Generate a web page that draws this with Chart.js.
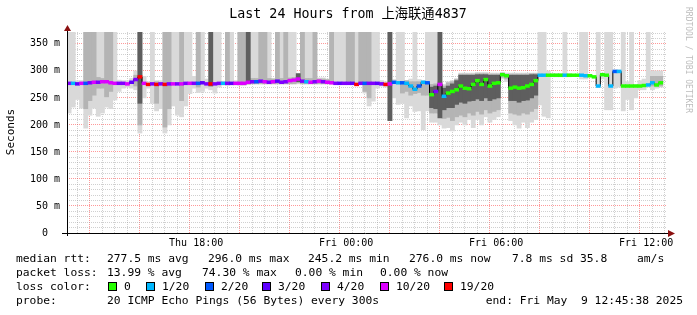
<!DOCTYPE html>
<html>
<head>
<meta charset="utf-8">
<title>Last 24 Hours from 上海联通4837</title>
<script src="https://cdn.jsdelivr.net/npm/chart.js@4.4.1/dist/chart.umd.min.js"></script>
<style>
  body { margin: 0; background: #fff; }
  canvas { display: block; }
</style>
</head>
<body>
<canvas id="smokeGraph" width="697" height="315"></canvas>
<script>
// 24 h of 10 minute bins, first bin starts Thu 12:50
const binMinutes = 10;
const xTickMinutes = [310, 670, 1030, 1390];
const xTickLabels = ["Thu 18:00", "Fri 00:00", "Fri 06:00", "Fri 12:00"];
const yTickValues = [0, 50, 100, 150, 200, 250, 300, 350];

const lossLabels = ["0", "1/20", "2/20", "3/20", "4/20", "10/20", "19/20"];
const lossColors = ["#26ff00", "#00b8ff", "#0059ff", "#5e00ff", "#7e00ff", "#dd00ff", "#ff0000"];

// median rtt in ms per bin
const median = [
    277, 277, 276, 277, 277, 278, 279, 279, 280, 280, 278, 277,
    277, 277, 276, 279, 284, 289, 277, 275, 276, 275, 276, 275,
    276, 276, 276, 276, 277, 277, 277, 277, 278, 276, 276, 276,
    277, 277, 277, 277, 277, 277, 277, 279, 280, 280, 281, 280,
    279, 280, 281, 279, 280, 282, 283, 285, 281, 280, 279, 280,
    281, 280, 279, 278, 277, 277, 277, 277, 277, 275, 277, 277,
    277, 277, 277, 276, 275, 276, 279, 278, 278, 277, 272, 266,
    272, 279, 278, 256, 262, 275, 253, 259, 262, 265, 272, 268,
    267, 275, 282, 275, 284, 272, 277, 278, 293, 291, 268, 270,
    268, 269, 272, 275, 282, 292, 292, 292, 292, 292, 292, 292,
    292, 292, 292, 292, 291, 291, 289, 272, 293, 292, 272, 299,
    299, 272, 272, 272, 272, 272, 273, 274, 278, 274, 278, null
];

// index into lossColors per bin
const loss = [
    4, 1, 3, 5, 2, 4, 5, 4, 5, 5, 5, 5,
    4, 4, 5, 3, 4, 6, 5, 6, 4, 6, 4, 6,
    4, 5, 4, 5, 4, 5, 4, 2, 3, 4, 6, 4,
    4, 1, 4, 3, 5, 5, 5, 5, 4, 2, 4, 5,
    4, 5, 3, 4, 4, 5, 5, 5, 4, 1, 5, 4,
    5, 4, 5, 5, 4, 3, 4, 4, 3, 6, 4, 2,
    4, 4, 3, 4, 6, 5, 2, 1, 2, 1, 1, 1,
    2, 1, 2, 0, 4, 5, 1, 0, 0, 0, 0, 0,
    0, 0, 0, 0, 0, 0, 0, 0, 0, 0, 0, 0,
    0, 0, 0, 0, 0, 1, 1, 0, 0, 0, 0, 1,
    0, 0, 0, 1, 1, 0, 0, 1, 0, 0, 1, 2,
    1, 0, 0, 0, 0, 0, 0, 1, 1, 0, 0, 0
];

// smoke ranges [low, high] in ms, outer light band
const smokeLight = [
    [222,372],[233,372],[247,282],[231,282],[194,372],[218,372],[231,372],[216,372],[222,372],[233,372],[230,372],[246,372],
    [262,283],[268,282],[270,282],[268,286],[265,300],[185,372],[250,290],[268,280],[240,372],[226,282],[230,282],[185,372],
    [200,372],[235,372],[218,372],[215,372],[235,372],[258,372],[268,290],[260,372],[262,372],[268,285],[265,372],[259,372],
    [270,372],[274,281],[274,372],[274,372],[274,282],[274,372],[274,372],[276,372],[276,372],[276,372],[276,372],[276,372],
    [276,372],[276,286],[276,372],[276,372],[276,372],[276,372],[276,372],[276,295],[276,372],[276,372],[276,372],[276,372],
    [276,287],[276,287],[276,285],[276,372],[275,372],[275,372],[275,372],[275,372],[275,372],[275,372],[275,372],[259,372],
    [235,372],[244,372],[268,372],[272,282],[270,280],[208,372],[250,284],[238,372],[240,372],[213,282],[235,285],[225,372],
    [226,284],[191,282],[226,372],[205,372],[205,372],[200,372],[194,275],[195,280],[189,282],[200,285],[205,296],[200,296],
    [210,296],[195,296],[210,297],[200,297],[215,297],[205,296],[210,296],[215,296],[285,297],[280,296],[208,296],[200,296],
    [194,296],[205,296],[195,296],[205,296],[210,296],[237,372],[216,372],[213,300],[289,295],[289,295],[289,295],[289,372],
    [289,295],null,null,[285,372],[285,372],null,null,[270,372],[285,296],[228,372],[228,372],[268,302],
    [270,302],[226,372],[247,280],[228,372],[250,275],[265,282],[265,285],[270,372],[265,300],[268,300],[270,300],null
];

// middle band
const smokeMid = [
    null,null,null,null,[230,372],[245,372],[255,372],[268,288],[268,286],[252,372],[262,372],null,
    null,null,null,null,[272,292],[200,372],null,null,null,[240,280],null,[196,372],
    [230,372],null,null,[245,372],null,null,null,[270,372],null,null,null,null,
    null,null,[274,372],null,null,[274,372],[274,372],[276,286],[276,286],[276,286],[276,372],[276,372],
    [276,286],[276,285],[276,372],[276,286],[276,372],[276,287],[276,288],[278,292],[276,372],[276,286],[276,286],[276,372],
    [276,285],[276,285],[276,284],[276,372],null,null,null,[275,372],[275,372],null,[275,372],[262,372],
    [250,372],null,null,null,null,null,null,null,[259,280],[262,282],[255,280],[258,280],
    [260,280],[255,279],[255,280],[222,275],[222,276],[222,280],[212,272],[214,278],[208,280],[215,285],[218,294],[215,294],
    [222,294],[218,294],[225,295],[220,295],[228,295],[222,294],[225,294],[228,294],[288,296],[285,294],[222,294],[220,294],
    [218,294],[222,294],[220,294],[225,295],[230,295],null,null,null,null,null,null,null,
    null,null,null,null,null,null,null,null,null,null,null,null,
    null,null,null,null,null,null,null,null,[272,290],[272,290],[272,290],null
];

// dense core band
const smokeDark = [
    null,null,null,null,null,null,null,null,null,null,null,null,
    null,null,null,null,null,[240,372],null,null,null,null,null,null,
    null,null,null,null,null,null,null,null,null,null,[272,372],null,
    null,null,null,null,null,null,null,[276,372],null,null,null,null,
    null,null,null,null,null,null,null,[280,295],null,null,null,null,
    null,null,null,null,null,null,null,null,null,null,null,null,
    null,null,null,null,null,[208,372],null,null,null,null,null,null,
    null,null,null,[232,270],[230,272],[213,372],[228,268],[232,272],[232,276],[238,282],[242,292],[240,292],
    [244,292],[245,292],[248,293],[245,293],[250,293],[245,292],[248,292],[250,292],null,null,[245,292],[245,292],
    [242,292],[245,292],[246,292],[250,293],[255,293],null,null,null,null,null,null,null,
    null,null,null,null,null,null,null,null,null,null,null,null,
    null,null,null,null,null,null,null,null,null,null,null,null
];

const medianStats = ["277.5 ms avg", "296.0 ms max", "245.2 ms min", "276.0 ms now", "7.8 ms sd", "35.8", "am/s"];
const lossStats = ["13.99 % avg", "74.30 % max", "0.00 % min", "0.00 % now"];
const probeText = "20 ICMP Echo Pings (56 Bytes) every 300s";
const endText = "end: Fri May  9 12:45:38 2025";
const titleText = "Last 24 Hours from 上海联通4837";

document.addEventListener("DOMContentLoaded", () => {
    const ctx = document.getElementById("smokeGraph").getContext("2d");
    const mono = "'DejaVu Sans Mono', 'Noto Sans CJK SC', monospace";

    const binX = median.map((_, i) => i * binMinutes + binMinutes / 2);
    const toBars = (arr) => arr.map((r, i) => ({ x: binX[i], y: r }));

    // grid every 30 min from 13:00, every 10 ms
    const gridMinutes = [];
    for (let t = 10; t < 1440; t += 30) gridMinutes.push(t);
    const gridValues = [];
    for (let v = 0; v <= 370; v += 10) gridValues.push(v);

    const majorGrid = "rgba(255,0,0,0.4)";
    const minorGrid = "rgba(150,150,150,0.45)";

    const smokeBar = (label, arr, color, order) => ({
        type: "bar",
        label: label,
        data: toBars(arr),
        backgroundColor: color,
        borderWidth: 0,
        grouped: false,
        barPercentage: 1,
        categoryPercentage: 1,
        order: order
    });

    const decorations = {
        id: "decorations",
        afterDraw(chart) {
            const c = chart.ctx;
            const a = chart.chartArea;
            c.save();

            // axes with arrows
            c.strokeStyle = "#000";
            c.lineWidth = 1;
            c.beginPath();
            c.moveTo(a.left - 5, a.bottom + 0.5);
            c.lineTo(a.right + 2, a.bottom + 0.5);
            c.moveTo(a.left + 0.5, a.bottom + 3);
            c.lineTo(a.left + 0.5, a.top - 2);
            c.stroke();
            c.fillStyle = "#8b1010";
            c.beginPath();
            c.moveTo(a.right + 1, a.bottom - 3);
            c.lineTo(a.right + 8, a.bottom + 0.5);
            c.lineTo(a.right + 1, a.bottom + 4);
            c.fill();
            c.beginPath();
            c.moveTo(a.left - 3, a.top - 1);
            c.lineTo(a.left + 0.5, a.top - 7);
            c.lineTo(a.left + 4, a.top - 1);
            c.fill();

            // title
            c.fillStyle = "#000";
            c.textBaseline = "middle";
            c.textAlign = "center";
            c.font = "13.3px " + mono;
            c.fillText(titleText, 348, 15);

            // y axis title
            c.save();
            c.translate(11, 132);
            c.rotate(-Math.PI / 2);
            c.font = "11px " + mono;
            c.fillText("Seconds", 0, 0);
            c.restore();

            // watermark
            c.save();
            c.translate(688, 60);
            c.rotate(Math.PI / 2);
            c.fillStyle = "#bdbdbd";
            c.font = "8px " + mono;
            c.fillText("RRDTOOL / TOBI OETIKER", 0, 0);
            c.restore();

            // legend
            c.textAlign = "left";
            c.font = "11.3px " + mono;
            c.fillStyle = "#000";
            const r1 = 259, r2 = 273, r3 = 287, r4 = 301;
            c.fillText("median rtt:", 16, r1);
            [107, 208, 308, 409, 512, 580, 637].forEach((x, i) => c.fillText(medianStats[i], x, r1));
            c.fillText("packet loss:", 16, r2);
            [107, 202, 295, 380].forEach((x, i) => c.fillText(lossStats[i], x, r2));
            c.fillText("loss color:", 16, r3);
            const boxX = [108, 146, 205, 262, 321, 380, 444];
            boxX.forEach((x, i) => {
                c.fillStyle = lossColors[i];
                c.fillRect(x, r3 - 5, 9, 9);
                c.strokeStyle = "#000";
                c.strokeRect(x + 0.5, r3 - 4.5, 8, 8);
                c.fillStyle = "#000";
                c.fillText(lossLabels[i], x + 16, r3);
            });
            c.fillText("probe:", 16, r4);
            c.fillText(probeText, 107, r4);
            c.textAlign = "right";
            c.fillText(endText, 683, r4);

            c.restore();
        }
    };

    const config = {
        type: "bar",
        data: {
            datasets: [
                {
                    type: "bar",
                    label: "median",
                    data: median.map((m, i) => ({ x: binX[i], y: m === null ? null : [m - 2.6, m + 2.6] })),
                    backgroundColor: loss.map(l => lossColors[l]),
                    borderWidth: 0,
                    grouped: false,
                    barPercentage: 1,
                    categoryPercentage: 1,
                    order: 1
                },
                {
                    type: "line",
                    label: "median step",
                    data: median.map((m, i) => ({ x: binX[i], y: m })),
                    borderColor: "#000",
                    borderWidth: 1,
                    pointRadius: 0,
                    stepped: "middle",
                    order: 2
                },
                smokeBar("smoke core", smokeDark, "#5e5e5e", 3),
                smokeBar("smoke mid", smokeMid, "#b4b4b4", 4),
                smokeBar("smoke outer", smokeLight, "#d9d9d9", 5)
            ]
        },
        options: {
            responsive: false,
            devicePixelRatio: 1,
            animation: false,
            layout: { padding: { left: 22, right: 30, top: 32, bottom: 67 } },
            plugins: {
                legend: { display: false },
                tooltip: { enabled: false }
            },
            scales: {
                x: {
                    type: "linear",
                    min: 0,
                    max: 1440,
                    offset: false,
                    z: 1,
                    grid: {
                        drawTicks: false,
                        color: (c) => {
                            const t = gridMinutes[c.index];
                            return (t - 70) % 120 === 0 ? majorGrid : minorGrid;
                        }
                    },
                    border: { display: false, dash: [1, 1] },
                    ticks: {
                        autoSkip: false,
                        maxRotation: 0,
                        padding: 4,
                        color: "#000",
                        font: { family: "DejaVu Sans Mono", size: 10 },
                        callback: (v) => {
                            const k = xTickMinutes.indexOf(v);
                            return k >= 0 ? xTickLabels[k] : "";
                        }
                    },
                    afterBuildTicks: (s) => { s.ticks = gridMinutes.map(v => ({ value: v })); },
                    afterFit: (s) => { s.height = 15; s.paddingLeft = 0; s.paddingRight = 0; }
                },
                y: {
                    min: 0,
                    max: 372,
                    z: 1,
                    grid: {
                        drawTicks: false,
                        color: (c) => {
                            const v = gridValues[c.index];
                            if (v === 0) return "rgba(0,0,0,0)";
                            return v % 50 === 0 ? majorGrid : minorGrid;
                        }
                    },
                    border: { display: false, dash: [1, 1] },
                    ticks: {
                        autoSkip: false,
                        padding: 7,
                        color: "#000",
                        font: { family: "DejaVu Sans Mono", size: 10 },
                        callback: (v) => {
                            if (!yTickValues.includes(v)) return "";
                            return v === 0 ? "0  " : v + " m";
                        }
                    },
                    afterBuildTicks: (s) => { s.ticks = gridValues.map(v => ({ value: v })); },
                    afterFit: (s) => { s.width = 45; s.paddingTop = 0; s.paddingBottom = 0; }
                }
            }
        },
        plugins: [decorations]
    };

    new Chart(ctx, config);
});
</script>
</body>
</html>
